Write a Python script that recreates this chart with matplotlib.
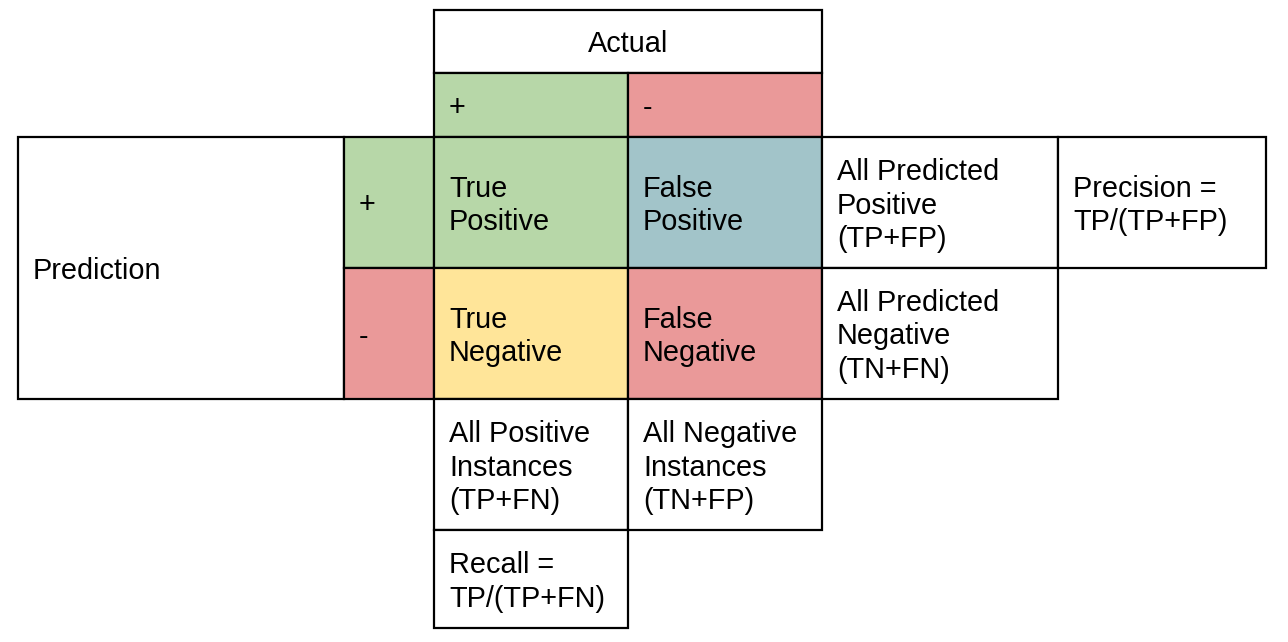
import matplotlib.pyplot as plt
from matplotlib.patches import Rectangle

plt.rcParams['font.family'] = ['Liberation Sans', 'DejaVu Sans']

# grid lines of the table (pixel units)
col_x = [18, 344, 434, 628, 822, 1058, 1266]
row_y = [10, 73, 137, 268, 399, 530, 628]

green = "#b7d7a8"
red = "#ea9999"
blue = "#a2c4c9"
yellow = "#ffe599"
white = "#ffffff"

# cell texts, fill colours and which grid columns/rows each cell spans
cell_text = ["Actual", "+", "-",
             "Prediction", "+", "True\nPositive", "False\nPositive",
             "All Predicted\nPositive\n(TP+FP)", "Precision =\nTP/(TP+FP)",
             "-", "True\nNegative", "False\nNegative",
             "All Predicted\nNegative\n(TN+FN)",
             "All Positive\nInstances\n(TP+FN)", "All Negative\nInstances\n(TN+FP)",
             "Recall =\nTP/(TP+FN)"]
cell_color = [white, green, red,
              white, green, green, blue, white, white,
              red, yellow, red, white,
              white, white, white]
cell_span = [(2, 4, 0, 1), (2, 3, 1, 2), (3, 4, 1, 2),
             (0, 1, 2, 4), (1, 2, 2, 3), (2, 3, 2, 3), (3, 4, 2, 3),
             (4, 5, 2, 3), (5, 6, 2, 3),
             (1, 2, 3, 4), (2, 3, 3, 4), (3, 4, 3, 4), (4, 5, 3, 4),
             (2, 3, 4, 5), (3, 4, 4, 5), (2, 3, 5, 6)]

fig = plt.figure(figsize=(12.88, 6.42), dpi=100)
ax = fig.add_axes([0, 0, 1, 1])
ax.set_xlim(0, 1288)
ax.set_ylim(642, 0)
ax.axis("off")

for txt, col, (c0, c1, r0, r1) in zip(cell_text, cell_color, cell_span):
    x0, x1 = col_x[c0], col_x[c1]
    y0, y1 = row_y[r0], row_y[r1]
    ax.add_patch(Rectangle((x0, y0), x1 - x0, y1 - y0, facecolor=col,
                           edgecolor="black", linewidth=1.6))
    if txt == "Actual":
        ax.text((x0 + x1) / 2, (y0 + y1) / 2 + 2.5, txt, ha="center",
                va="center", fontsize=20.8)
    else:
        ax.text(x0 + 15, (y0 + y1) / 2 + 3, txt, ha="left", va="center",
                fontsize=20.8, linespacing=1.27)

fig.savefig("out.png", dpi=100)
